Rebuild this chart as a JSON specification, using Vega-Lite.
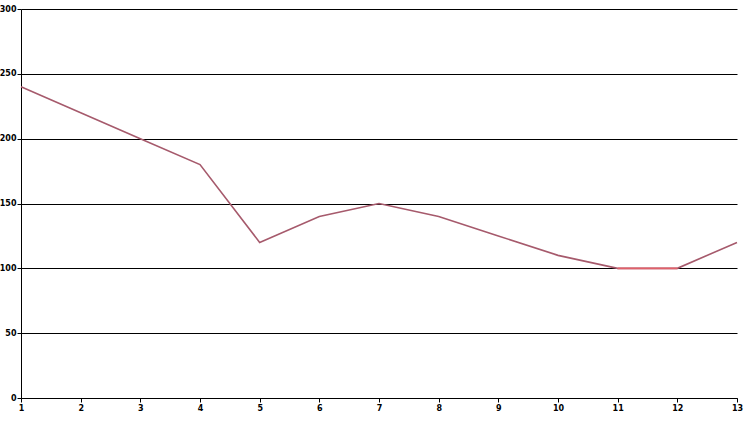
{
  "$schema": "https://vega.github.io/schema/vega-lite/v6.json",
  "width": 716,
  "height": 389,
  "autosize": {"type": "none"},
  "padding": {"left": 21, "top": 9, "right": 17, "bottom": 15},
  "background": "white",
  "config": {
    "view": {"stroke": null},
    "axis": {
      "domainColor": "black",
      "domainWidth": 1,
      "tickColor": "black",
      "tickSize": 4,
      "labelFont": "DejaVu Sans",
      "labelFontSize": 8,
      "labelFontWeight": "bold",
      "labelColor": "black",
      "gridColor": "black",
      "gridOpacity": 1,
      "gridWidth": 1,
      "title": null
    }
  },
  "layer": [
    {
      "data": {
        "values": [
          {"x": 1, "y": 240}, {"x": 2, "y": 220}, {"x": 3, "y": 200}, {"x": 4, "y": 180},
          {"x": 5, "y": 120}, {"x": 6, "y": 140}, {"x": 7, "y": 150}, {"x": 8, "y": 140},
          {"x": 9, "y": 125}, {"x": 10, "y": 110}, {"x": 11, "y": 100}, {"x": 12, "y": 100},
          {"x": 13, "y": 120}
        ]
      },
      "mark": {"type": "line", "color": "#a65a6c", "strokeWidth": 1.6},
      "encoding": {
        "x": {"field": "x", "type": "quantitative", "scale": {"domain": [1, 13], "nice": false, "zero": false},
              "axis": {"values": [1,2,3,4,5,6,7,8,9,10,11,12,13], "format": "d", "grid": false, "labelPadding": 2, "labelFlush": false}},
        "y": {"field": "y", "type": "quantitative", "scale": {"domain": [0, 300], "nice": false},
              "axis": {"values": [0,50,100,150,200,250,300], "format": "d", "grid": true, "labelPadding": 1}}
      }
    },
    {
      "data": {"values": [{"x": 11, "y": 100}, {"x": 12, "y": 100}]},
      "mark": {"type": "line", "color": "#e0606a", "strokeWidth": 1.6},
      "encoding": {
        "x": {"field": "x", "type": "quantitative"},
        "y": {"field": "y", "type": "quantitative"}
      }
    }
  ]
}
